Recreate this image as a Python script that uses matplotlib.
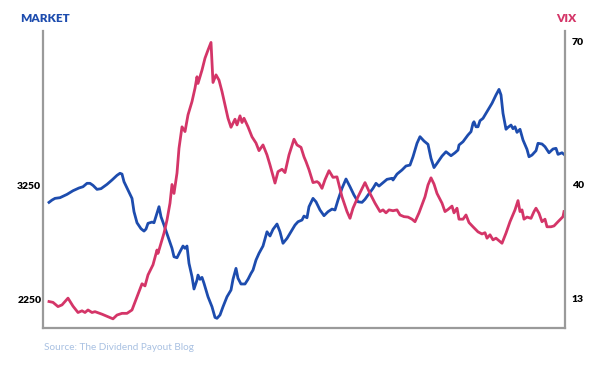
import numpy as np
import matplotlib
matplotlib.use('Agg')
import matplotlib.pyplot as plt

# trading-day index (left edge of the plot = 0)
market_days = [6, 9, 12, 17, 24, 30, 36, 40, 44, 47, 50, 54, 58, 64, 69, 74, 77, 79, 81, 85,
               89, 91, 94, 98, 101, 103, 105, 109, 111, 114, 116, 118, 121, 125, 129, 131, 134, 137, 140, 142,
               144, 146, 149, 151, 154, 155, 157, 159, 161, 165, 169, 172, 174, 177, 180, 184, 188, 190, 193, 195,
               198, 202, 205, 208, 210, 213, 216, 220, 224, 227, 230, 234, 237, 240, 244, 248, 252, 255, 259, 261,
               264, 266, 270, 273, 277, 281, 285, 289, 292, 295, 299, 303, 307, 311, 315, 319, 322, 325, 330, 333,
               336, 340, 344, 349, 350, 354, 359, 363, 367, 370, 374, 377, 381, 385, 388, 391, 394, 399, 403, 408,
               412, 415, 416, 420, 425, 428, 430, 431, 433, 435, 437, 440, 444, 449, 453, 456, 458, 460, 463, 465,
               468, 470, 472, 474, 477, 480, 484, 486, 489, 493, 495, 499, 502, 506, 510, 513, 515, 519, 521]
market = [3098, 3118, 3133, 3139, 3168, 3200, 3224, 3235, 3265, 3265, 3247, 3212, 3218, 3256, 3294, 3335, 3353, 3346, 3279, 3206,
          3133, 3016, 2919, 2867, 2846, 2864, 2914, 2925, 2919, 3002, 3060, 2972, 2899, 2796, 2695, 2621, 2612, 2665, 2715, 2695,
          2715, 2563, 2446, 2338, 2417, 2460, 2423, 2440, 2388, 2270, 2182, 2089, 2081, 2110, 2182, 2270, 2329, 2423, 2519, 2432,
          2382, 2382, 2423, 2475, 2504, 2592, 2651, 2715, 2840, 2803, 2861, 2908, 2840, 2739, 2782, 2840, 2899, 2928, 2943, 2978,
          2963, 3060, 3133, 3103, 3031, 2981, 3016, 3039, 3031, 3118, 3221, 3303, 3235, 3162, 3103, 3098, 3125, 3162, 3221, 3265,
          3241, 3270, 3300, 3309, 3294, 3346, 3382, 3417, 3425, 3498, 3616, 3674, 3636, 3607, 3484, 3403, 3440, 3504, 3542, 3507,
          3533, 3557, 3601, 3630, 3689, 3718, 3791, 3805, 3761, 3761, 3814, 3835, 3893, 3967, 4040, 4089, 4040, 3879, 3739, 3756,
          3776, 3744, 3761, 3712, 3739, 3645, 3563, 3498, 3513, 3551, 3616, 3610, 3586, 3533, 3566, 3572, 3519, 3533, 3519]

vix_days = [6, 10, 15, 19, 25, 30, 35, 39, 42, 45, 49, 52, 59, 65, 70, 74, 79, 84, 89, 94,
            99, 102, 105, 110, 114, 115, 118, 121, 124, 127, 129, 131, 134, 136, 139, 142, 145, 149, 152, 154,
            155, 159, 162, 165, 168, 169, 170, 173, 176, 179, 182, 185, 188, 192, 194, 197, 199, 201, 205, 209,
            213, 216, 220, 224, 227, 232, 235, 239, 242, 246, 251, 254, 258, 261, 263, 266, 270, 274, 276, 279,
            282, 286, 290, 294, 299, 304, 307, 310, 315, 322, 327, 332, 337, 340, 343, 346, 350, 354, 357, 361,
            365, 369, 372, 376, 382, 385, 388, 391, 394, 399, 402, 405, 409, 411, 414, 416, 420, 423, 426, 430,
            435, 439, 442, 444, 447, 450, 453, 457, 459, 463, 467, 472, 475, 477, 479, 481, 484, 488, 491, 493,
            496, 499, 502, 504, 508, 511, 515, 520, 521]
vix = [12.4, 12.2, 11.2, 11.6, 13.2, 11.3, 9.8, 10.2, 9.8, 10.4, 9.8, 10.0, 9.4, 8.8, 8.3, 9.2, 9.6, 9.6, 10.4, 13.5,
       16.6, 16.1, 18.7, 21.1, 24.6, 23.8, 26.2, 28.6, 31.7, 35.7, 40.1, 38.0, 42.5, 47.7, 52.2, 51.2, 54.7, 57.5, 60.3, 62.7,
       61.3, 64.1, 66.6, 68.3, 69.9, 65.5, 61.5, 63.1, 62.0, 59.6, 56.8, 54.0, 52.1, 53.8, 52.6, 54.5, 53.1, 54.0, 52.2, 50.1,
       48.8, 47.2, 48.4, 46.3, 44.2, 40.4, 42.8, 43.3, 42.6, 46.3, 49.6, 48.4, 47.9, 45.9, 44.9, 43.2, 40.5, 40.7, 40.4, 39.2,
       41.1, 43.0, 41.6, 41.7, 37.2, 33.7, 32.1, 34.5, 37.2, 40.5, 38.0, 35.7, 33.7, 34.1, 33.4, 34.1, 33.9, 34.1, 32.9, 32.5,
       32.4, 31.9, 31.3, 33.4, 37.2, 40.0, 41.5, 40.2, 38.0, 35.7, 33.7, 34.2, 35.0, 33.4, 34.5, 31.9, 31.9, 32.9, 31.1, 30.1,
       28.9, 28.4, 28.7, 27.4, 28.2, 27.0, 27.4, 26.6, 26.2, 28.6, 31.3, 34.1, 36.3, 33.7, 34.1, 31.9, 32.4, 32.1, 33.7, 34.5,
       33.3, 31.3, 31.9, 30.1, 30.1, 30.3, 31.3, 32.5, 33.7]

market_ticks = [2250, 3250]
vix_ticks = [13, 40, 70]

BLUE = '#1d4cae'
PINK = '#d43568'
GRAY = '#9a9a9a'

plt.rcParams['font.family'] = ['Lato', 'DejaVu Sans']

# the VIX labels are not evenly spaced on the original, so use a piecewise scale
vix_pts = [-100, 13, 40, 70, 200]
vix_pos = [-477.1, 0, 114, 257, 876.7]


def vix_fwd(v):
    return np.interp(v, vix_pts, vix_pos)


def vix_inv(h):
    return np.interp(h, vix_pos, vix_pts)


fig = plt.figure(figsize=(6, 3.69), dpi=100)
ax = fig.add_axes([43 / 600, 41 / 369, 522 / 600, 297 / 369])
ax2 = ax.twinx()

ax.plot(market_days, market, color=BLUE, lw=2.0, solid_joinstyle='round')
ax2.plot(vix_days, vix, color=PINK, lw=2.0, solid_joinstyle='round')

ax.set_xlim(0, 522)
ax.set_ylim(1996, 4601)
ax2.set_yscale('function', functions=(vix_fwd, vix_inv))
ax2.set_ylim(6.13, 72.3)

ax.set_xticks([])
ax.set_yticks(market_ticks)
ax2.set_yticks(vix_ticks)
ax2.yaxis.set_minor_locator(matplotlib.ticker.NullLocator())
ax.tick_params(axis='y', length=0, pad=1.2, labelsize=7.5)
ax2.tick_params(axis='y', length=0, pad=5, labelsize=7.5)
for lab in ax.get_yticklabels() + ax2.get_yticklabels():
    lab.set_fontweight('heavy')

for a in (ax, ax2):
    a.spines['top'].set_visible(False)
    for s in ('left', 'right', 'bottom'):
        a.spines[s].set_color(GRAY)
        a.spines[s].set_linewidth(1.6)
ax.spines['right'].set_visible(False)
ax2.spines['left'].set_visible(False)
ax2.spines['bottom'].set_visible(False)

fig.text(20 / 600, 1 - 19 / 369, 'MARKET', color=BLUE, fontsize=8.5, fontweight='heavy', va='center')
fig.text(556 / 600, 1 - 19 / 369, 'VIX', color=PINK, fontsize=8.5, fontweight='heavy', va='center')
fig.text(44 / 600, 1 - 347 / 369, 'Source: The Dividend Payout Blog', color='#a9c1e2', fontsize=7.2, va='center')

fig.savefig('out.png', dpi=100)
